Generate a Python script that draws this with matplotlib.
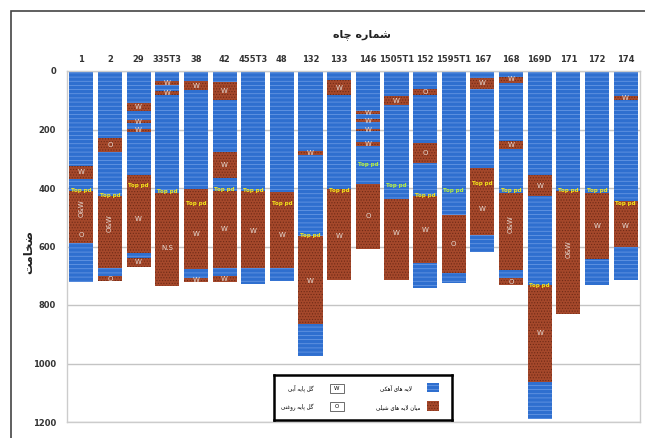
import numpy as np
import matplotlib

matplotlib.use("Agg")
import matplotlib.pyplot as plt
from matplotlib.patches import Rectangle

plt.rcParams["font.family"] = ["DejaVu Sans"]
plt.rcParams["hatch.linewidth"] = 0.5

wells = ["1", "2", "29", "335T3", "38", "42", "455T3", "48", "132", "133",
         "146", "1505T1", "152", "1595T1", "167", "168", "169D", "171", "172", "174"]

# layer boundaries, first layer is limestone from 0, then alternating shale / limestone
boundaries = [
    [325, 370, 410, 587, 720],
    [228, 277, 427, 672, 701, 718],
    [108, 137, 167, 179, 197, 208, 357, 621, 638, 670],
    [34, 49, 68, 83, 416, 735],
    [34, 65, 405, 676, 707, 721],
    [38, 99, 277, 365, 410, 672, 701, 721],
    [410, 672, 729],
    [414, 672, 718],
    [274, 288, 564, 866, 975],
    [31, 83, 405, 714],
    [137, 148, 165, 174, 197, 205, 243, 256, 387, 607],
    [85, 117, 436, 714],
    [60, 83, 245, 313, 427, 658, 741],
    [493, 689, 724],
    [23, 60, 330, 562, 619],
    [19, 40, 239, 268, 416, 680, 707, 733],
    [357, 427, 733, 1063, 1191],
    [410, 832],
    [416, 644, 733],
    [85, 99, 444, 600, 714],
]

# mud type marks (depth, text)
mud_marks = [
    [(347, "W"), (470, "O&W"), (560, "O")],
    [(252, "O"), (520, "O&W"), (710, "O")],
    [(122, "W"), (173, "W"), (202, "W"), (507, "W"), (654, "W")],
    [(41, "W"), (75, "W"), (604, "N.S")],
    [(50, "W"), (558, "W"), (714, "W")],
    [(68, "W"), (321, "W"), (541, "W"), (711, "W")],
    [(547, "W")],
    [(560, "W")],
    [(281, "W"), (718, "W")],
    [(57, "W"), (564, "W")],
    [(142, "W"), (170, "W"), (201, "W"), (250, "W"), (496, "O")],
    [(101, "W"), (553, "W")],
    [(71, "O"), (279, "O"), (544, "W")],
    [(593, "O")],
    [(41, "W"), (473, "W")],
    [(29, "W"), (253, "W"), (525, "O&W"), (720, "O")],
    [(392, "W"), (895, "W")],
    [(610, "O&W")],
    [(530, "W")],
    [(92, "W"), (530, "W")],
]

top_pd = [410, 427, 393, 412, 452, 405, 410, 452, 564, 410,
          319, 391, 427, 408, 384, 408, 733, 408, 410, 452]

title = "\uFEE9\uFE8E\uFB7C \uFEE9\uFEAD\uFE8E\uFEE4\uFEB7"          # شماره چاه
ylabel = "\uFE96\uFEE3\uFE8E\uFEA8\uFEBF"                         # ضخامت
leg_lime = "\uFBFD\uFB91\uFEEB\uFE81 \uFBFC\uFE8E\uFEEB \uFEEA\uFBFE\uFEFB"   # لایه های آهکی
leg_shale = ("\uFBFD\uFEE0\uFBFF\uFEB7 \uFBFC\uFE8E\uFEEB \uFEEA\uFBFE\uFEFB "
             "\uFEE5\uFE8E\uFBFF\uFEE3")                             # میان لایه های شیلی
leg_w = "\uFBFD\uFE91\uFE81 \uFEEA\uFBFE\uFE8E\uFB58 \uFEDE\uFB94"      # گل پایه آبی
leg_o = "\uFBFD\uFEE8\uFECF\uFEED\uFEAD \uFEEA\uFBFE\uFE8E\uFB58 \uFEDE\uFB94"  # گل پایه روغنی

blue = "#2f6fcf"
blue_h = "#6f9de6"
brown = "#a5482b"
brown_h = "#6e2a16"
blue_hatch = "----"
brown_hatch = "......"

fig = plt.figure(figsize=(6.45, 4.38), dpi=100)
ax = fig.add_axes([67 / 645, 1 - 422 / 438, 573 / 645, 351 / 438])

x = np.arange(len(wells))
w = 0.84

lx, lb, lh = [], [], []
sx, sb, sh = [], [], []
for i, d in enumerate(boundaries):
    tops = [0] + d[:-1]
    for k, (t, b) in enumerate(zip(tops, d)):
        if k % 2 == 0:
            lx.append(x[i]); lb.append(t); lh.append(b - t)
        else:
            sx.append(x[i]); sb.append(t); sh.append(b - t)

ax.bar(lx, lh, bottom=lb, width=w, color=blue, linewidth=0, zorder=2)
ax.bar(lx, lh, bottom=lb, width=w, facecolor="none", edgecolor=blue_h,
       hatch=blue_hatch, linewidth=0, zorder=3)
ax.bar(sx, sh, bottom=sb, width=w, color=brown, linewidth=0, zorder=2)
ax.bar(sx, sh, bottom=sb, width=w, facecolor="none", edgecolor=brown_h,
       hatch=brown_hatch, linewidth=0, zorder=3)

for i, marks in enumerate(mud_marks):
    for depth, txt in marks:
        rot = 90 if "&" in txt else 0
        ax.text(x[i], depth, txt, ha="center", va="center", fontsize=5,
                color="#e8dcd4", rotation=rot, zorder=4)

for i, depth in enumerate(top_pd):
    c = "#b8f03c" if wells[i] in ("146", "1505T1", "1595T1") else "#f5e61a"
    ax.text(x[i], depth, "Top pd", ha="center", va="center", fontsize=4,
            color=c, fontweight="bold", zorder=4)

ax.set_xlim(-0.5, len(wells) - 0.5)
ax.set_ylim(1200, 0)
ax.set_yticks(np.arange(0, 1201, 200))
ax.yaxis.grid(True, color="#c4c4c4", linewidth=1, zorder=0)
ax.set_axisbelow(True)
ax.xaxis.tick_top()
ax.set_xticks(x)
ax.set_xticklabels(wells, fontsize=6, fontweight="bold", color="#333333")
ax.tick_params(axis="x", length=0, pad=5)
ax.tick_params(axis="y", length=0, pad=8, labelsize=6, labelcolor="#333333")
for lbl in ax.get_yticklabels():
    lbl.set_fontweight("bold")
for s in ax.spines.values():
    s.set_color("#cccccc")
    s.set_linewidth(1)

fig.text(362 / 645, 1 - 35 / 438, title, ha="center", va="center",
         fontsize=8, fontweight="bold", color="#222222")
fig.text(29 / 645, 1 - 252 / 438, ylabel, ha="center", va="center",
         rotation=90, fontsize=8.5, fontweight="bold", color="#222222")

# legend box
lg = fig.add_axes([274 / 645, 1 - 420 / 438, 178 / 645, 45 / 438])
lg.set_xlim(274, 452)
lg.set_ylim(420, 375)
lg.set_xticks([])
lg.set_yticks([])
for s in lg.spines.values():
    s.set_linewidth(1.8)
    s.set_color("black")
lg.add_patch(Rectangle((427, 383), 12, 9, facecolor=blue, edgecolor="none"))
lg.add_patch(Rectangle((427, 383), 12, 9, facecolor="none", edgecolor=blue_h,
                       hatch=blue_hatch, linewidth=0))
lg.add_patch(Rectangle((427, 401), 12, 10, facecolor=brown, edgecolor="none"))
lg.add_patch(Rectangle((427, 401), 12, 10, facecolor="none", edgecolor=brown_h,
                       hatch=brown_hatch, linewidth=0))
lg.text(412, 388, leg_lime, ha="right", va="center", fontsize=4)
lg.text(420, 407, leg_shale, ha="right", va="center", fontsize=4)
lg.add_patch(Rectangle((330, 384), 14, 9, facecolor="white", edgecolor="#555555",
                       linewidth=0.6))
lg.add_patch(Rectangle((330, 402), 14, 9, facecolor="white", edgecolor="#555555",
                       linewidth=0.6))
lg.text(337, 388.5, "W", ha="center", va="center", fontsize=4)
lg.text(337, 406.5, "O", ha="center", va="center", fontsize=4)
lg.text(313, 388, leg_w, ha="right", va="center", fontsize=4)
lg.text(313, 407, leg_o, ha="right", va="center", fontsize=4)

# outer frame
fig.patches.append(Rectangle((11 / 645, -0.05), 1.1, 1.05 - 11 / 438,
                             transform=fig.transFigure, fill=False,
                             edgecolor="#444444", linewidth=1.2))

fig.savefig("out.png", dpi=100)
plt.close(fig)
